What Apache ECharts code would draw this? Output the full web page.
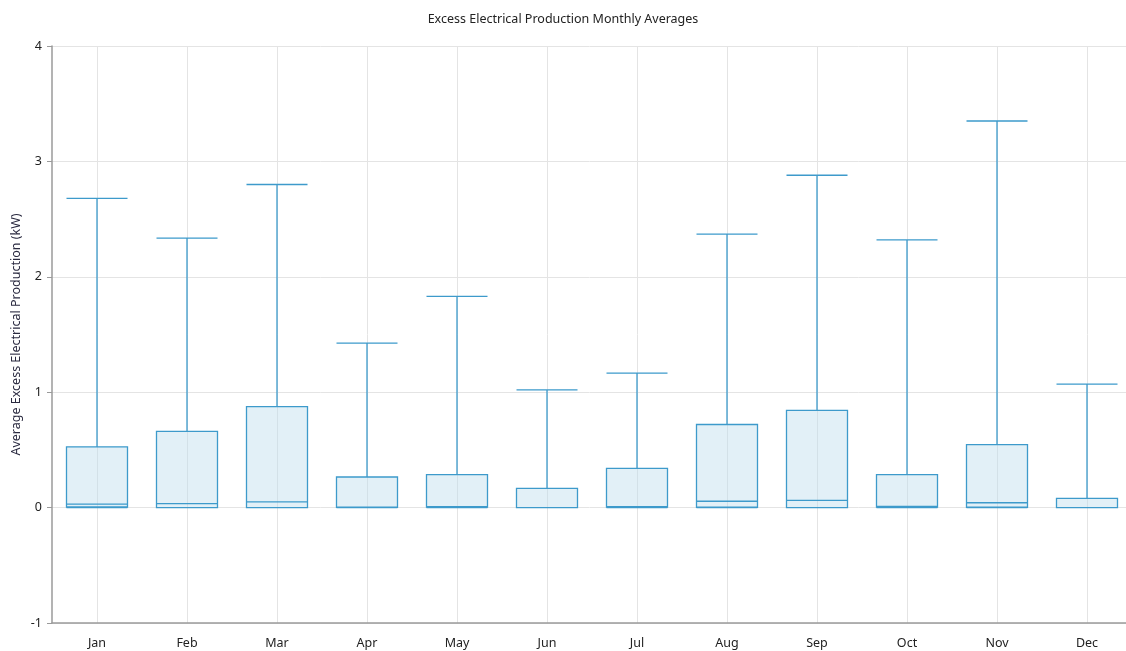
<!DOCTYPE html>
<html>
<head>
<meta charset="utf-8">
<script src="https://cdn.jsdelivr.net/npm/echarts@6/dist/echarts.min.js"></script>
<style>
html,body{margin:0;padding:0;background:#fff;}
#chart{width:1126px;height:651px;}
</style>
</head>
<body>
<div id="chart"></div>
<script>
// Monthly distribution of excess electrical production (kW)
const months = ['Jan','Feb','Mar','Apr','May','Jun','Jul','Aug','Sep','Oct','Nov','Dec'];
const lowValues    = [0, 0, 0, 0, 0, 0, 0, 0, 0, 0, 0, 0];
const q1Values     = [0.005, 0, 0, 0.003, 0.005, 0, 0.005, 0.003, 0, 0.005, 0.003, 0];
const medianValues = [0.03, 0.034, 0.05, 0.003, 0.008, 0, 0.008, 0.055, 0.063, 0.01, 0.042, 0];
const q3Values     = [0.527, 0.66, 0.875, 0.265, 0.285, 0.167, 0.34, 0.72, 0.843, 0.285, 0.545, 0.08];
const highValues   = [2.68, 2.335, 2.80, 1.425, 1.83, 1.02, 1.165, 2.37, 2.88, 2.32, 3.35, 1.07];
const yTicks = [-1, 0, 1, 2, 3, 4];

const boxData = months.map((m, i) => [lowValues[i], q1Values[i], medianValues[i], q3Values[i], highValues[i]]);

const font = 'Noto Sans';
const chart = echarts.init(document.getElementById('chart'));
chart.setOption({
  animation: false,
  textStyle: { fontFamily: font },
  title: {
    text: 'Excess Electrical Production Monthly Averages',
    left: 'center', top: 8,
    textStyle: { fontFamily: font, fontSize: 12.5, fontWeight: 'normal', color: '#222' }
  },
  grid: { left: 52, top: 46, right: -6, bottom: 28, outerBoundsMode: 'none', containLabel: false },
  xAxis: {
    type: 'category',
    data: months,
    boundaryGap: true,
    axisLine: { onZero: false, lineStyle: { color: '#9a9a9a', width: 1.5 } },
    axisTick: { alignWithLabel: true, length: 5, lineStyle: { color: '#9a9a9a' } },
    axisLabel: { color: '#222', fontSize: 12.5, margin: 14, fontFamily: font },
    splitLine: { show: true, alignWithLabel: true, lineStyle: { color: '#e4e4e4' } }
  },
  yAxis: {
    type: 'value',
    min: yTicks[0], max: yTicks[yTicks.length - 1], interval: 1,
    name: 'Average Excess Electrical Production (kW)',
    nameLocation: 'middle', nameGap: 29, nameMoveOverlap: false,
    nameTextStyle: { color: '#2a2a40', fontSize: 12.5, fontFamily: font },
    axisLine: { show: true, lineStyle: { color: '#9a9a9a', width: 1.5 } },
    axisTick: { show: true, length: 5, lineStyle: { color: '#9a9a9a' } },
    axisLabel: { color: '#222', fontSize: 12.5, margin: 10, fontFamily: font },
    splitLine: { show: true, lineStyle: { color: '#e4e4e4' } }
  },
  series: [{
    type: 'boxplot',
    data: boxData,
    boxWidth: [61, 61],
    itemStyle: { color: 'rgba(190,222,238,0.45)', borderColor: '#3d9acb', borderWidth: 1.3 },
    emphasis: { disabled: true }
  }]
});
</script>
</body>
</html>
